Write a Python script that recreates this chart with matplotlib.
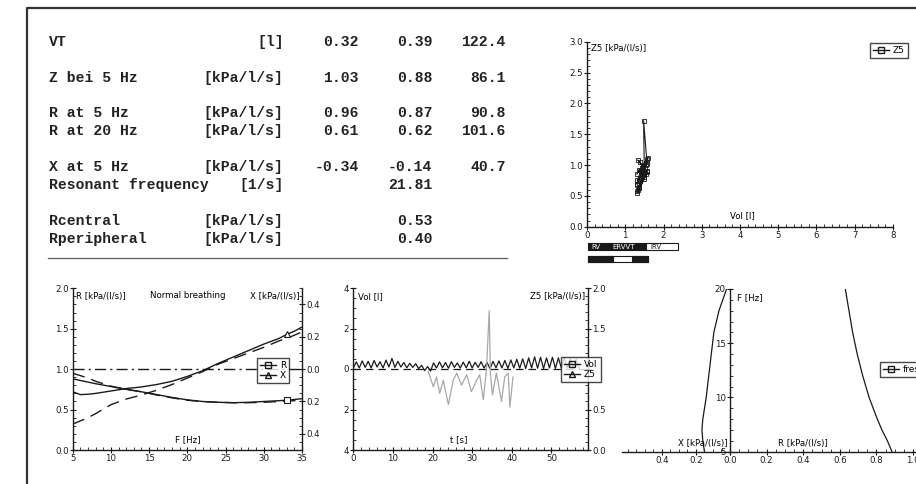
import numpy as np
import matplotlib
matplotlib.use("Agg")
import matplotlib.pyplot as plt
from matplotlib.lines import Line2D
from matplotlib.patches import Rectangle
from matplotlib.ticker import MultipleLocator, FuncFormatter

W, H = 916, 484

# --- summary table ---------------------------------------------------------
ROW_LABELS = ["VT", "Z bei 5 Hz", "R at 5 Hz", "R at 20 Hz", "X at 5 Hz",
              "Resonant frequency", "Rcentral", "Rperipheral"]
ROW_UNITS = ["[l]", "[kPa/l/s]", "[kPa/l/s]", "[kPa/l/s]", "[kPa/l/s]",
             "[1/s]", "[kPa/l/s]", "[kPa/l/s]"]
COL_PRED = [0.32, 1.03, 0.96, 0.61, -0.34, None, None, None]
COL_MEAS = [0.39, 0.88, 0.87, 0.62, -0.14, 21.81, 0.53, 0.40]
COL_PCT = [122.4, 86.1, 90.8, 101.6, 40.7, None, None, None]

# --- Z5 vs volume loop (top right) -----------------------------------------
LOOP_VOL = [1.32, 1.55, 1.35, 1.58, 1.30, 1.52, 1.33, 1.57, 1.36, 1.50, 1.48,
            1.56, 1.31, 1.54, 1.34, 1.60, 1.30, 1.45, 1.38, 1.58, 1.32, 1.50,
            1.35, 1.56, 1.31]
LOOP_Z5 = [0.58, 0.85, 0.65, 1.05, 0.70, 0.95, 1.08, 0.90, 0.62, 0.80, 1.72,
           1.10, 0.75, 1.00, 0.60, 1.12, 0.85, 0.95, 1.05, 0.88, 0.55, 0.78,
           0.92, 1.02, 0.68]

# --- R / X spectra (bottom left) -------------------------------------------
FREQ = [5, 6, 7, 8, 10, 12, 14, 16, 18, 20, 22, 24, 26, 28, 30, 32, 33, 34, 35]
R_MEAS = [0.88, 0.86, 0.84, 0.82, 0.785, 0.75, 0.72, 0.685, 0.65, 0.62, 0.60,
          0.59, 0.585, 0.59, 0.60, 0.61, 0.615, 0.625, 0.635]
R_PRED = [0.95, 0.92, 0.89, 0.85, 0.79, 0.75, 0.72, 0.68, 0.645, 0.615, 0.60,
          0.59, 0.585, 0.585, 0.59, 0.60, 0.605, 0.61, 0.62]
X_MEAS = [-0.14, -0.1575, -0.155, -0.15, -0.135, -0.12, -0.11, -0.095, -0.075,
          -0.045, -0.01, 0.035, 0.075, 0.115, 0.155, 0.19, 0.215, 0.235, 0.26]
X_PRED = [-0.34, -0.32, -0.30, -0.275, -0.22, -0.185, -0.16, -0.13, -0.095,
          -0.055, -0.015, 0.03, 0.065, 0.10, 0.135, 0.175, 0.19, 0.21, 0.23]

# --- time course (bottom middle) -------------------------------------------
VOL_DT = 0.75
VOL_TRACE = [0.05, 0.35, 0.05, 0.40, 0.08, 0.38, 0.05, 0.42, 0.10, 0.36,
             0.05, 0.44, 0.10, 0.52, 0.08, 0.38, 0.10, 0.32, 0.06, 0.28,
             0.08, 0.26, 0.02, 0.18, -0.08, 0.12, -0.10, 0.30, 0.05, 0.35,
             0.06, 0.32, 0.04, 0.36, 0.08, 0.30, 0.05, 0.34, 0.06, 0.38,
             0.05, 0.33, 0.08, 0.36, 0.04, 0.32, 0.02, 0.38, 0.06, 0.40,
             0.05, 0.42, 0.03, 0.45, 0.05, 0.48, 0.04, 0.50, 0.02, 0.55,
             0.05, 0.60, 0.04, 0.58, 0.02, 0.55, 0.05, 0.58, 0.03, 0.55,
             0.05, 0.56, 0.04, 0.52, 0.05, 0.50, 0.04]
Z5_T = [18.9, 20.2, 21.0, 21.8, 22.7, 24.0, 25.2, 26.1, 27.3, 28.6, 29.8,
        31.1, 31.9, 32.8, 33.6, 34.3, 34.6, 35.1, 36.1, 37.4, 38.2, 39.1,
        39.5, 40.3]
Z5_VAL = [0.97, 0.78, 0.90, 0.70, 0.86, 0.56, 0.86, 0.95, 0.80, 0.93, 0.72,
          0.86, 0.93, 0.62, 0.99, 1.72, 0.95, 0.68, 0.95, 0.60, 0.90, 0.95,
          0.53, 0.90]

# --- R and X vs frequency (bottom right) -----------------------------------
BR_FREQ = [5, 6, 7, 8, 10, 12, 14, 16, 18, 20]
BR_X = [0.15, 0.16, 0.165, 0.16, 0.14, 0.125, 0.11, 0.095, 0.065, 0.02]
BR_R = [0.885, 0.86, 0.83, 0.805, 0.76, 0.725, 0.695, 0.67, 0.65, 0.63]

INK = "#1a1a1a"
FS = 6.2
plt.rcParams["font.family"] = ["DejaVu Sans"]
plt.rcParams["font.size"] = FS


def box(x0, y0, x1, y1):
    return [x0 / W, 1 - y1 / H, (x1 - x0) / W, (y1 - y0) / H]


def style(ax, sides=("left", "bottom")):
    for s in ("left", "right", "top", "bottom"):
        ax.spines[s].set_visible(s in sides)
        ax.spines[s].set_color(INK)
        ax.spines[s].set_linewidth(1.0)
    ax.tick_params(which="major", direction="inout", length=4, width=0.8,
                   colors=INK, labelsize=FS, pad=1)
    ax.tick_params(which="minor", direction="in", length=2, width=0.6, colors=INK)
    ax.patch.set_alpha(0)


def legend(ax, handles, labels, x, y):
    leg = ax.legend(handles, labels, loc="upper left", bbox_to_anchor=(x / W, 1 - y / H),
                    bbox_transform=fig.transFigure, frameon=True, fancybox=False,
                    edgecolor=INK, fontsize=6.5, handlelength=1.8, handletextpad=0.4,
                    borderpad=0.35, labelspacing=0.1, borderaxespad=0)
    leg.get_frame().set_linewidth(1.0)
    return leg


abs_fmt = FuncFormatter(lambda v, p: f"{abs(v):.1f}")
abs_int = FuncFormatter(lambda v, p: f"{abs(v):.0f}")

fig = plt.figure(figsize=(W / 100, H / 100), dpi=100)

# pixel overlay for frame, table and volume bars
ov = fig.add_axes([0, 0, 1, 1])
ov.set_xlim(0, W)
ov.set_ylim(H, 0)
ov.axis("off")
ov.plot([26.7, 26.7, W], [H, 8.3, 8.3], color="#333333", lw=1.6)
ov.plot([48, 507], [258.3, 258.3], color="#666666", lw=1.0)

row_y = [41.7, 77.7, 113, 130.7, 166.7, 185, 220.7, 239]
mono = dict(family="Liberation Mono", fontsize=10.6, fontweight="bold",
            color="#222222", va="center")
for i, yy in enumerate(row_y):
    ov.text(49.3, yy, ROW_LABELS[i], ha="left", **mono)
    ov.text(283.5, yy, ROW_UNITS[i], ha="right", **mono)
    for xr, val, fmt in ((359, COL_PRED[i], "{:.2f}"), (432.3, COL_MEAS[i], "{:.2f}"),
                         (505.7, COL_PCT[i], "{:.1f}")):
        if val is not None:
            ov.text(xr, yy, fmt.format(val), ha="right", **mono)

# lung volume bars below the loop plot
ov.add_patch(Rectangle((588, 243), 58, 7, facecolor=INK, edgecolor=INK, lw=0.8))
ov.add_patch(Rectangle((646, 243), 32, 7, facecolor="white", edgecolor=INK, lw=0.8))
ov.text(591, 246.8, "RV", color="white", fontsize=5, va="center", ha="left")
ov.text(612, 246.8, "ERVVT", color="white", fontsize=5, va="center", ha="left")
ov.text(650, 246.8, "IRV", color=INK, fontsize=5, va="center", ha="left")
ov.add_patch(Rectangle((588, 256), 60, 6, facecolor="white", edgecolor=INK, lw=0.8))
ov.add_patch(Rectangle((588, 256), 25, 6, facecolor=INK, edgecolor=INK, lw=0.8))
ov.add_patch(Rectangle((632, 256), 16, 6, facecolor=INK, edgecolor=INK, lw=0.8))

# --- top right: Z5 vs Vol --------------------------------------------------
ax1 = fig.add_axes(box(587, 41.7, 893, 226.7))
style(ax1)
ax1.plot(LOOP_VOL, LOOP_Z5, color=INK, lw=0.8, marker="s", ms=2.5, mfc="none", mew=0.6)
ax1.set_xlim(0, 8)
ax1.set_ylim(0, 3)
ax1.xaxis.set_major_locator(MultipleLocator(1))
ax1.xaxis.set_minor_locator(MultipleLocator(0.2))
ax1.yaxis.set_major_locator(MultipleLocator(0.5))
ax1.yaxis.set_minor_locator(MultipleLocator(0.1))
ax1.yaxis.set_major_formatter(FuncFormatter(lambda v, p: f"{v:.1f}"))
ax1.text(0.012, 0.985, "Z5 [kPa/(l/s)]", transform=ax1.transAxes, va="top", ha="left")
ax1.text(4.05, 0.1, "Vol [l]", ha="center", va="bottom")
legend(ax1, [Line2D([], [], color=INK, lw=1, marker="s", ms=5, mfc="none")],
       ["Z5"], 870, 43)

# --- bottom left: R and X spectra ------------------------------------------
ax2 = fig.add_axes(box(72.7, 288.3, 302, 450))
style(ax2, ("left", "bottom"))
ax2r = ax2.twinx()
style(ax2r, ("right",))
ax2.plot(FREQ, R_MEAS, color=INK, lw=1.0)
ax2.plot(FREQ, R_PRED, color=INK, lw=1.0, ls=(0, (9, 5)))
ax2.plot([33], [R_MEAS[FREQ.index(33)]], color=INK, marker="s", ms=5, mfc="white", mew=0.8)
ax2r.plot(FREQ, X_MEAS, color=INK, lw=1.0)
ax2r.plot(FREQ, X_PRED, color=INK, lw=1.0, ls=(0, (9, 5)))
ax2r.plot([33], [X_MEAS[FREQ.index(33)]], color=INK, marker="^", ms=5, mfc="white", mew=0.8)
ax2r.axhline(0, color=INK, lw=1.0, ls=(0, (8, 3, 1.5, 3)))
ax2.set_xlim(5, 35)
ax2.set_ylim(0, 2)
ax2r.set_ylim(-0.5, 0.5)
ax2.xaxis.set_major_locator(MultipleLocator(5))
ax2.xaxis.set_minor_locator(MultipleLocator(1))
ax2.yaxis.set_major_locator(MultipleLocator(0.5))
ax2.yaxis.set_minor_locator(MultipleLocator(0.1))
ax2.yaxis.set_major_formatter(FuncFormatter(lambda v, p: f"{v:.1f}"))
ax2r.yaxis.set_major_locator(MultipleLocator(0.2))
ax2r.yaxis.set_minor_locator(MultipleLocator(0.05))
ax2r.yaxis.set_major_formatter(abs_fmt)
ax2.text(0.015, 0.975, "R [kPa/(l/s)]", transform=ax2.transAxes, va="top", ha="left")
ax2.text(0.5, 0.985, "Normal breathing", transform=ax2.transAxes, va="top", ha="center")
ax2.text(0.99, 0.975, "X [kPa/(l/s)]", transform=ax2.transAxes, va="top", ha="right")
ax2.text(20, 0.07, "F [Hz]", ha="center", va="bottom")
legend(ax2r, [Line2D([], [], color=INK, lw=1, marker="s", ms=5, mfc="none"),
              Line2D([], [], color=INK, lw=1, marker="^", ms=5, mfc="none")],
       ["R", "X"], 257, 358)

# --- bottom middle: Vol and Z5 vs time -------------------------------------
ax3 = fig.add_axes(box(353.3, 288, 588.3, 450))
style(ax3, ("left", "bottom"))
ax3r = ax3.twinx()
style(ax3r, ("right",))
t_vol = np.arange(len(VOL_TRACE)) * VOL_DT
ax3.axhline(0, color=INK, lw=0.9, ls=(0, (6, 4)))
ax3.plot(t_vol, VOL_TRACE, color=INK, lw=0.9)
ax3r.plot(Z5_T, Z5_VAL, color="#a8a8a8", lw=0.9)
ax3.set_xlim(0, 59.3)
ax3.set_ylim(-4, 4)
ax3r.set_ylim(0, 2)
ax3.xaxis.set_major_locator(MultipleLocator(10))
ax3.xaxis.set_minor_locator(MultipleLocator(2))
ax3.yaxis.set_major_locator(MultipleLocator(2))
ax3.yaxis.set_minor_locator(MultipleLocator(0.5))
ax3.yaxis.set_major_formatter(abs_int)
ax3r.yaxis.set_major_locator(MultipleLocator(0.5))
ax3r.yaxis.set_minor_locator(MultipleLocator(0.1))
# the 1.0 label sits behind the legend box in the original
ax3r.yaxis.set_major_formatter(FuncFormatter(lambda v, p: "" if abs(v - 1) < 1e-6 else f"{v:.1f}"))
ax3.text(0.02, 0.975, "Vol [l]", transform=ax3.transAxes, va="top", ha="left")
ax3.text(0.985, 0.975, "Z5 [kPa/(l/s)]", transform=ax3.transAxes, va="top", ha="right")
ax3.text(26.5, -3.72, "t [s]", ha="center", va="bottom")
legend(ax3r, [Line2D([], [], color=INK, lw=1, marker="s", ms=5, mfc="none"),
              Line2D([], [], color=INK, lw=1, marker="^", ms=5, mfc="none")],
       ["Vol", "Z5"], 561, 357)

# --- bottom right: X (left half) and R (right half) vs F -------------------
ax4 = fig.add_axes(box(621.7, 289, 730, 451.7))
style(ax4, ("bottom",))
ax4.plot(BR_X, BR_FREQ, color=INK, lw=0.9)
ax4.set_xlim(0.637, 0)
ax4.set_ylim(5, 20)
ax4.set_yticks([])
ax4.set_xticks([0.4, 0.2, 0.0])
ax4.xaxis.set_minor_locator(MultipleLocator(0.05))
ax4.xaxis.set_major_formatter(FuncFormatter(lambda v, p: f"{v:.1f}"))
ax4.text(0.16, 5.35, "X [kPa/(l/s)]", ha="center", va="bottom")

ax5 = fig.add_axes(box(730, 289, 920, 451.7))
style(ax5, ("left", "bottom"))
ax5.plot(BR_R, BR_FREQ, color=INK, lw=0.9)
ax5.set_xlim(0, 1.038)
ax5.set_ylim(5, 20)
ax5.xaxis.set_major_locator(MultipleLocator(0.2))
ax5.xaxis.set_minor_locator(MultipleLocator(0.05))
ax5.xaxis.set_major_formatter(FuncFormatter(lambda v, p: "" if v < 0.1 else f"{v:.1f}"))
ax5.yaxis.set_major_locator(MultipleLocator(5))
ax5.yaxis.set_minor_locator(MultipleLocator(1))
ax5.text(0.035, 0.975, "F [Hz]", transform=ax5.transAxes, va="top", ha="left")
ax5.text(0.4, 5.35, "R [kPa/(l/s)]", ha="center", va="bottom")
legend(ax5, [Line2D([], [], color=INK, lw=1, marker="s", ms=5, mfc="none")],
       ["fres"], 880, 362)

fig.savefig("out.png", dpi=100)
